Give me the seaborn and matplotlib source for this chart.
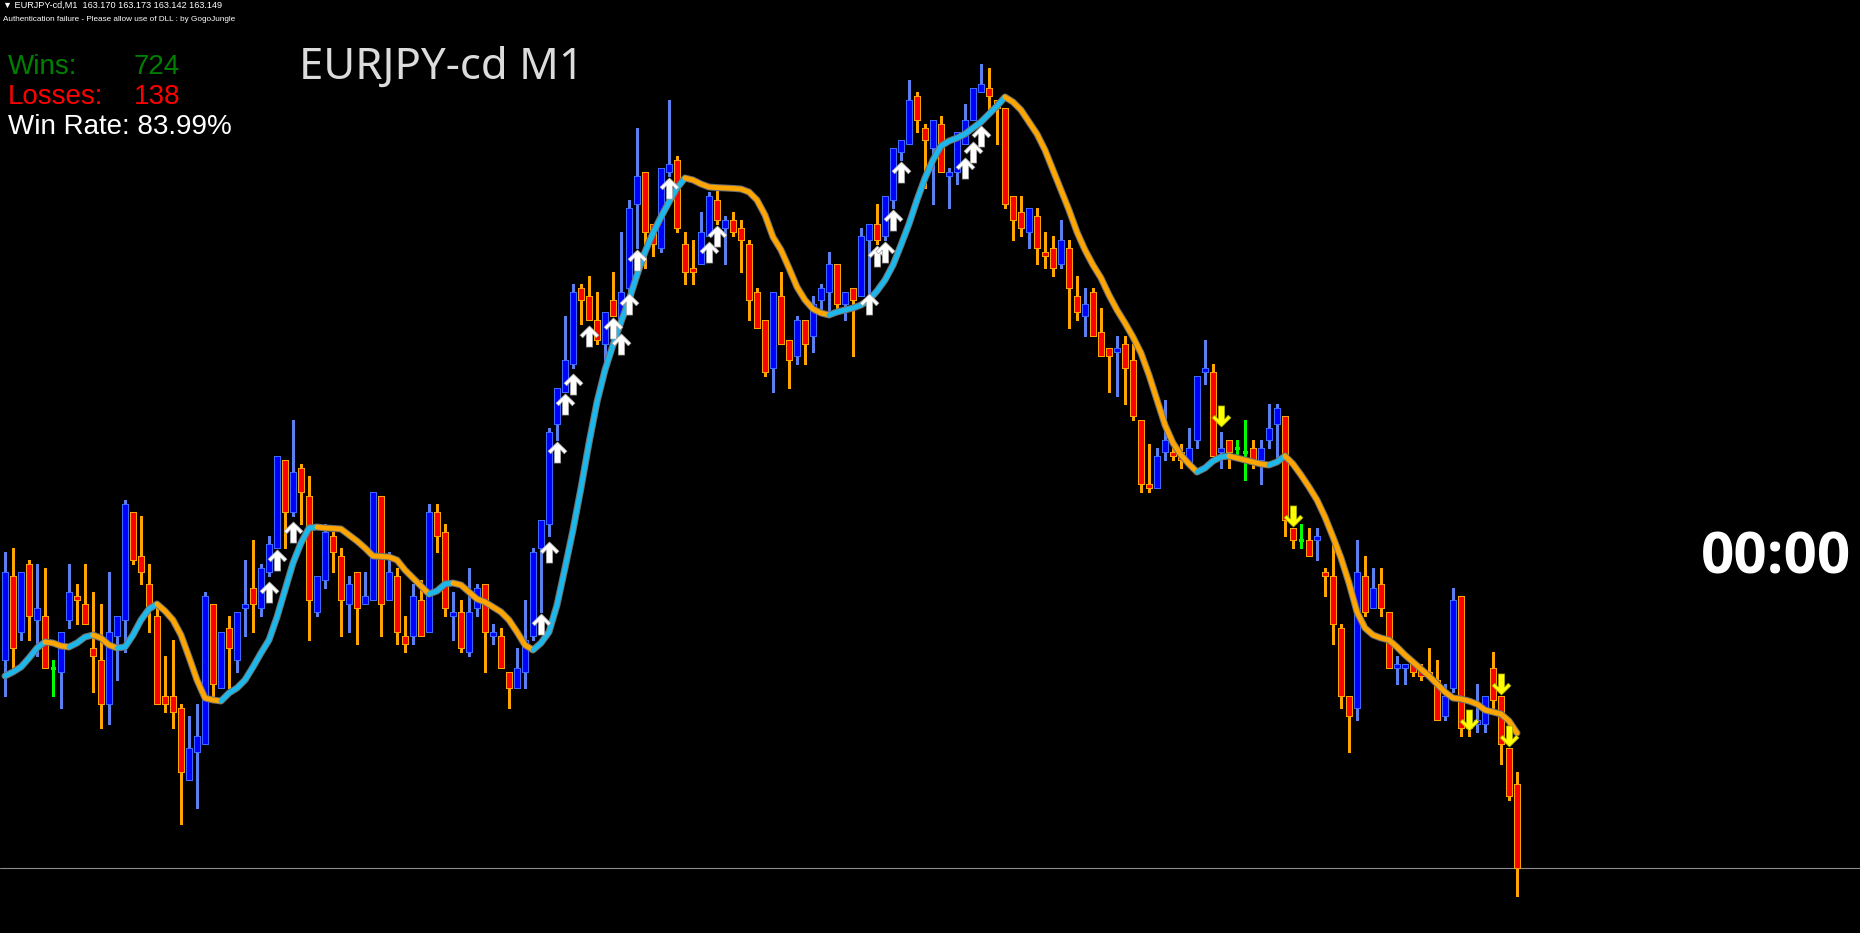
import numpy as np
import pandas as pd
import matplotlib
matplotlib.use("Agg")
import matplotlib.pyplot as plt
from matplotlib.path import Path
import seaborn as sns

# Konfiguration
W, H = 1860, 933
BG = "#000000"
BULL_FACE, BULL_EDGE, BULL_WICK = "#0000FF", "#3D6BFF", "#5A80F0"
BEAR_FACE, BEAR_EDGE, BEAR_WICK = "#FF0000", "#FFA500", "#FFA500"
DOJI_COL = "#00FF00"
MA_UP, MA_DN, MA_EDGE = "#1CB8EC", "#FFA500", "#707070"

# Kerzen (EURJPY-cd, M1)
opens = [
    163.201, 163.222, 163.208, 163.225, 163.211, 163.212, 163.199, 163.198, 163.211, 163.217,
    163.215, 163.204, 163.201, 163.190, 163.207, 163.211, 163.238, 163.227, 163.220, 163.212,
    163.192, 163.192, 163.189, 163.171, 163.178, 163.180, 163.215, 163.194, 163.209, 163.201,
    163.214, 163.219, 163.214, 163.223, 163.229, 163.251, 163.238, 163.249, 163.242, 163.213,
    163.221, 163.232, 163.227, 163.215, 163.223, 163.215, 163.216, 163.242, 163.216, 163.222,
    163.207, 163.207, 163.216, 163.208, 163.238, 163.233, 163.212, 163.213, 163.203, 163.214,
    163.220, 163.207, 163.207, 163.198, 163.194, 163.198, 163.207, 163.229, 163.235, 163.260,
    163.268, 163.275, 163.294, 163.292, 163.286, 163.280, 163.291, 163.286, 163.294, 163.315,
    163.323, 163.310, 163.304, 163.323, 163.326, 163.305, 163.299, 163.300, 163.307, 163.316,
    163.309, 163.311, 163.309, 163.305, 163.293, 163.286, 163.274, 163.292, 163.281, 163.277,
    163.286, 163.282, 163.291, 163.293, 163.300, 163.290, 163.294, 163.292, 163.306, 163.310,
    163.307, 163.316, 163.328, 163.330, 163.342, 163.334, 163.329, 163.335, 163.322, 163.323,
    163.330, 163.336, 163.343, 163.344, 163.341, 163.339, 163.317, 163.313, 163.308, 163.312,
    163.303, 163.304, 163.300, 163.304, 163.292, 163.287, 163.293, 163.283, 163.279, 163.278,
    163.280, 163.276, 163.261, 163.245, 163.244, 163.253, 163.253, 163.253, 163.250, 163.256,
    163.273, 163.273, 163.253, 163.256, 163.254, 163.253, 163.254, 163.251, 163.256, 163.260,
    163.262, 163.234, 163.231, 163.231, 163.231, 163.223, 163.222, 163.209, 163.192, 163.189,
    163.222, 163.214, 163.220, 163.213, 163.199, 163.199, 163.200, 163.199, 163.198, 163.196,
    163.187, 163.194, 163.217, 163.185, 163.185, 163.185, 163.199, 163.192, 163.179, 163.170,
]
highs = [
    163.228, 163.229, 163.223, 163.226, 163.225, 163.224, 163.201, 163.208, 163.225, 163.220,
    163.225, 163.218, 163.215, 163.223, 163.212, 163.241, 163.238, 163.237, 163.225, 163.215,
    163.202, 163.206, 163.190, 163.187, 163.190, 163.218, 163.215, 163.208, 163.212, 163.213,
    163.226, 163.231, 163.225, 163.232, 163.252, 163.251, 163.261, 163.250, 163.247, 163.222,
    163.235, 163.233, 163.229, 163.222, 163.223, 163.223, 163.243, 163.242, 163.228, 163.224,
    163.212, 163.220, 163.221, 163.240, 163.240, 163.235, 163.218, 163.216, 163.224, 163.220,
    163.220, 163.210, 163.209, 163.198, 163.204, 163.216, 163.229, 163.236, 163.259, 163.269,
    163.287, 163.295, 163.295, 163.297, 163.293, 163.288, 163.298, 163.308, 163.316, 163.334,
    163.323, 163.310, 163.324, 163.341, 163.327, 163.308, 163.306, 163.313, 163.318, 163.319,
    163.312, 163.313, 163.311, 163.306, 163.294, 163.286, 163.293, 163.298, 163.281, 163.287,
    163.286, 163.292, 163.295, 163.303, 163.300, 163.293, 163.294, 163.309, 163.310, 163.315,
    163.317, 163.329, 163.331, 163.346, 163.343, 163.335, 163.336, 163.337, 163.324, 163.333,
    163.340, 163.344, 163.350, 163.349, 163.341, 163.339, 163.317, 163.317, 163.314, 163.314,
    163.308, 163.307, 163.311, 163.306, 163.297, 163.294, 163.294, 163.289, 163.279, 163.282,
    163.282, 163.280, 163.261, 163.255, 163.254, 163.266, 163.254, 163.255, 163.259, 163.272,
    163.281, 163.275, 163.258, 163.256, 163.256, 163.261, 163.256, 163.256, 163.265, 163.265,
    163.262, 163.234, 163.235, 163.234, 163.234, 163.224, 163.230, 163.210, 163.192, 163.231,
    163.227, 163.224, 163.224, 163.213, 163.202, 163.200, 163.201, 163.200, 163.204, 163.201,
    163.195, 163.219, 163.217, 163.186, 163.195, 163.192, 163.203, 163.192, 163.179, 163.173,
]
lows = [
    163.192, 163.199, 163.206, 163.206, 163.202, 163.199, 163.192, 163.189, 163.209, 163.210,
    163.210, 163.193, 163.184, 163.185, 163.196, 163.203, 163.225, 163.220, 163.208, 163.190,
    163.188, 163.184, 163.160, 163.171, 163.164, 163.180, 163.192, 163.194, 163.194, 163.198,
    163.207, 163.208, 163.212, 163.222, 163.229, 163.229, 163.237, 163.235, 163.206, 163.212,
    163.219, 163.223, 163.207, 163.208, 163.205, 163.215, 163.216, 163.207, 163.216, 163.205,
    163.203, 163.205, 163.207, 163.208, 163.228, 163.212, 163.206, 163.203, 163.202, 163.212,
    163.198, 163.205, 163.199, 163.189, 163.194, 163.194, 163.206, 163.213, 163.232, 163.256,
    163.268, 163.274, 163.285, 163.286, 163.280, 163.275, 163.287, 163.286, 163.293, 163.304,
    163.299, 163.302, 163.303, 163.322, 163.308, 163.295, 163.295, 163.300, 163.307, 163.310,
    163.300, 163.307, 163.298, 163.286, 163.284, 163.272, 163.268, 163.280, 163.269, 163.275,
    163.275, 163.278, 163.288, 163.288, 163.289, 163.286, 163.277, 163.292, 163.291, 163.305,
    163.306, 163.314, 163.326, 163.330, 163.333, 163.319, 163.315, 163.323, 163.314, 163.320,
    163.330, 163.336, 163.343, 163.338, 163.330, 163.314, 163.306, 163.307, 163.304, 163.300,
    163.299, 163.297, 163.299, 163.284, 163.286, 163.282, 163.282, 163.277, 163.268, 163.267,
    163.265, 163.261, 163.243, 163.243, 163.244, 163.251, 163.251, 163.249, 163.250, 163.254,
    163.270, 163.252, 163.249, 163.249, 163.252, 163.246, 163.249, 163.245, 163.254, 163.251,
    163.232, 163.229, 163.229, 163.227, 163.226, 163.217, 163.205, 163.189, 163.178, 163.186,
    163.212, 163.214, 163.212, 163.199, 163.195, 163.195, 163.197, 163.196, 163.197, 163.186,
    163.186, 163.193, 163.182, 163.182, 163.183, 163.183, 163.189, 163.175, 163.166, 163.142,
]
closes = [
    163.223, 163.204, 163.223, 163.212, 163.214, 163.199, 163.199, 163.208, 163.218, 163.216,
    163.210, 163.202, 163.190, 163.208, 163.212, 163.240, 163.226, 163.223, 163.214, 163.190,
    163.190, 163.188, 163.173, 163.179, 163.182, 163.217, 163.195, 163.208, 163.204, 163.213,
    163.215, 163.215, 163.224, 163.230, 163.252, 163.238, 163.248, 163.243, 163.216, 163.222,
    163.233, 163.228, 163.216, 163.220, 163.214, 163.217, 163.243, 163.215, 163.223, 163.208,
    163.205, 163.217, 163.207, 163.238, 163.232, 163.214, 163.213, 163.204, 163.213, 163.219,
    163.208, 163.208, 163.199, 163.194, 163.199, 163.206, 163.228, 163.236, 163.258, 163.269,
    163.276, 163.293, 163.291, 163.286, 163.281, 163.288, 163.287, 163.293, 163.314, 163.322,
    163.308, 163.305, 163.324, 163.325, 163.309, 163.298, 163.298, 163.308, 163.317, 163.311,
    163.311, 163.308, 163.306, 163.291, 163.284, 163.273, 163.293, 163.280, 163.276, 163.286,
    163.280, 163.290, 163.294, 163.300, 163.290, 163.293, 163.291, 163.307, 163.310, 163.306,
    163.317, 163.329, 163.331, 163.341, 163.336, 163.331, 163.336, 163.323, 163.323, 163.333,
    163.336, 163.344, 163.345, 163.342, 163.339, 163.315, 163.311, 163.309, 163.314, 163.304,
    163.302, 163.299, 163.306, 163.294, 163.288, 163.290, 163.282, 163.277, 163.277, 163.279,
    163.274, 163.262, 163.245, 163.244, 163.252, 163.256, 163.252, 163.251, 163.254, 163.272,
    163.274, 163.252, 163.254, 163.253, 163.254, 163.253, 163.251, 163.254, 163.259, 163.264,
    163.236, 163.231, 163.231, 163.227, 163.232, 163.222, 163.210, 163.192, 163.187, 163.223,
    163.213, 163.219, 163.214, 163.199, 163.200, 163.200, 163.198, 163.197, 163.197, 163.186,
    163.192, 163.216, 163.184, 163.184, 163.186, 163.192, 163.191, 163.180, 163.167, 163.149,
]

# Gleitender Durchschnitt (blau steigend, orange fallend)
ma_line = [
    163.19700, 163.19800, 163.19925, 163.20150, 163.20400, 163.20550, 163.20525, 163.20450, 163.20425, 163.20525,
    163.20675, 163.20725, 163.20650, 163.20475, 163.20400, 163.20425, 163.20725, 163.21100, 163.21375, 163.21500,
    163.21325, 163.21100, 163.20725, 163.20175, 163.19600, 163.19150, 163.19100, 163.19075, 163.19275, 163.19400,
    163.19600, 163.19925, 163.20275, 163.20600, 163.21175, 163.21850, 163.22525, 163.23025, 163.23400, 163.23425,
    163.23400, 163.23390, 163.23375, 163.23225, 163.23075, 163.22900, 163.22700, 163.22690, 163.22675, 163.22600,
    163.22350, 163.22150, 163.21950, 163.21750, 163.21825, 163.22000, 163.22025, 163.21975, 163.21800, 163.21625,
    163.21550, 163.21425, 163.21300, 163.21100, 163.20800, 163.20475, 163.20350, 163.20525, 163.20800, 163.21475,
    163.22400, 163.23350, 163.24400, 163.25525, 163.26550, 163.27350, 163.27975, 163.28550, 163.29100, 163.29725,
    163.30300, 163.30775, 163.31175, 163.31550, 163.31900, 163.32150, 163.32100, 163.32000, 163.31925, 163.31910,
    163.31900, 163.31890, 163.31875, 163.31800, 163.31600, 163.31225, 163.30675, 163.30350, 163.29900, 163.29425,
    163.29100, 163.28875, 163.28775, 163.28725, 163.28800, 163.28850, 163.28900, 163.28975, 163.29100, 163.29325,
    163.29600, 163.29975, 163.30475, 163.31000, 163.31600, 163.32150, 163.32600, 163.32950, 163.33075, 163.33150,
    163.33250, 163.33400, 163.33550, 163.33750, 163.33950, 163.34175, 163.34050, 163.33850, 163.33550, 163.33250,
    163.32850, 163.32350, 163.31850, 163.31350, 163.30800, 163.30350, 163.29975, 163.29650, 163.29225, 163.28850,
    163.28525, 163.28175, 163.27775, 163.27225, 163.26600, 163.25975, 163.25525, 163.25225, 163.25000, 163.24800,
    163.24900, 163.25075, 163.25175, 163.25200, 163.25150, 163.25100, 163.25050, 163.25000, 163.24975, 163.25050,
    163.25200, 163.25000, 163.24725, 163.24425, 163.24100, 163.23675, 163.23175, 163.22650, 163.22025, 163.21300,
    163.20900, 163.20725, 163.20650, 163.20600, 163.20425, 163.20225, 163.20050, 163.19875, 163.19700, 163.19500,
    163.19300, 163.19150, 163.19125, 163.19075, 163.19000, 163.18850, 163.18800, 163.18750, 163.18575, 163.18275,
]

# Signalpfeile
buy_idx = [33, 34, 36, 67, 68, 69, 70, 71, 73, 76, 77, 78, 79, 83, 88, 89,
           108, 109, 110, 111, 112, 120, 121, 122]
buy_price = [163.218, 163.226, 163.233, 163.210, 163.228, 163.253, 163.265, 163.270,
             163.282, 163.284, 163.280, 163.290, 163.301, 163.319, 163.303, 163.307,
             163.290, 163.302, 163.303, 163.311, 163.323, 163.324, 163.328, 163.332]
sell_idx = [152, 161, 183, 187, 188]
sell_price = [163.262, 163.237, 163.186, 163.195, 163.182]

bid_price = 163.149
header = "\u25bc EURJPY-cd,M1  163.170 163.173 163.142 163.149"
auth_text = "Authentication failure - Please allow use of DLL : by GogoJungle"
wins, losses, win_rate = 724, 138, 83.99
title = "EURJPY-cd M1"
timer = "00:00"

df = pd.DataFrame({"open": opens, "high": highs, "low": lows, "close": closes, "ma": ma_line})
df["i"] = np.arange(len(df))
bull = df[df.close > df.open]
bear = df[df.close < df.open]
doji = df[df.close == df.open]

sns.set_style("dark", {"axes.facecolor": BG, "figure.facecolor": BG})

fig = plt.figure(figsize=(W / 100, H / 100), dpi=100)
ax = fig.add_axes([0, 0, 1, 1])
ax.set_facecolor(BG)

# 1 Kerze = 8 Pixel, 1 Pixel = 0.00025 JPY
ax.set_xlim(-0.625, -0.625 + W / 8)
ax.set_ylim(163.366 - H * 0.00025, 163.366)
ax.axis("off")

ax.axhline(bid_price, color="#8C8C8C", lw=0.8, zorder=1)

# Dochte
ax.vlines(bull.i, bull.low, bull.high, colors=BULL_WICK, lw=0.75, antialiased=False, zorder=2)
ax.vlines(bear.i, bear.low, bear.high, colors=BEAR_WICK, lw=0.75, antialiased=False, zorder=2)
ax.vlines(doji.i, doji.low, doji.high, colors=DOJI_COL, lw=0.75, antialiased=False, zorder=2)

# Körper
BODY_W = 0.7
ax.bar(bull.i, bull.close - bull.open, bottom=bull.open, width=BODY_W,
       color=BULL_FACE, edgecolor=BULL_EDGE, lw=0.5, antialiased=False, zorder=3)
ax.bar(bear.i, bear.open - bear.close, bottom=bear.close, width=BODY_W,
       color=BEAR_FACE, edgecolor=BEAR_EDGE, lw=0.5, antialiased=False, zorder=3)
ax.hlines(doji.open, doji.i - 0.3, doji.i + 0.3, colors=DOJI_COL, lw=0.75, antialiased=False, zorder=3)

# Gleitender Durchschnitt: grauer Rand, farbige Abschnitte
sns.lineplot(x=df.i, y=df.ma, color=MA_EDGE, lw=5.0, ax=ax, zorder=4,
             solid_capstyle="round", solid_joinstyle="round")
ma = df.ma.to_numpy()
idx = df.i.to_numpy()
rising = np.diff(ma) > 0
start = 0
for k in range(1, len(rising) + 1):
    if k == len(rising) or rising[k] != rising[start]:
        seg = slice(start, k + 1)
        ax.plot(idx[seg], ma[seg], color=MA_UP if rising[start] else MA_DN, lw=3.5,
                solid_capstyle="round", solid_joinstyle="round", zorder=5)
        start = k

# Pfeil-Marker
up_verts = [(0, 0.5), (0.45, 0.06), (0.32, -0.06), (0.15, 0.12), (0.15, -0.5),
            (-0.15, -0.5), (-0.15, 0.12), (-0.32, -0.06), (-0.45, 0.06), (0, 0.5)]
up_arrow = Path(up_verts, closed=True)
down_arrow = Path([(x, -y) for x, y in up_verts], closed=True)

ax.scatter(buy_idx, buy_price, marker=up_arrow, s=230, color="#FFFFFF",
           edgecolor="#A0A0A0", lw=0.5, zorder=6)
ax.scatter(sell_idx, sell_price, marker=down_arrow, s=230, color="#FFFF00",
           edgecolor="#A0A000", lw=0.5, zorder=6)


def px(x, y):
    return x / W, 1 - y / H


small = ["Liberation Sans", "DejaVu Sans"]
fig.text(*px(3, 8), header, color="white", fontsize=6.6, family=small, va="baseline")
fig.text(*px(3, 21), auth_text, color="white", fontsize=5.85, family=small, va="baseline")

big = ["Liberation Sans", "DejaVu Sans"]
fig.text(*px(8, 74), "Wins:", color="#008000", fontsize=20, family=big, va="baseline")
fig.text(*px(134, 74), f"{wins}", color="#008000", fontsize=20, family=big, va="baseline")
fig.text(*px(8, 104), "Losses:", color="#FF0000", fontsize=20, family=big, va="baseline")
fig.text(*px(134, 104), f"{losses}", color="#FF0000", fontsize=20, family=big, va="baseline")
fig.text(*px(8, 134), f"Win Rate: {win_rate:.2f}%", color="white", fontsize=20,
         family=big, va="baseline")

fig.text(*px(299, 79), title, color="#DCDCDC", fontsize=31.5, family=["Noto Sans", "DejaVu Sans"],
         va="baseline")
fig.text(*px(1851, 573), timer, color="white", fontsize=42, fontweight="bold",
         family=["Open Sans", "Roboto", "DejaVu Sans"], ha="right", va="baseline")

fig.savefig("out.png", dpi=100, facecolor=BG)
